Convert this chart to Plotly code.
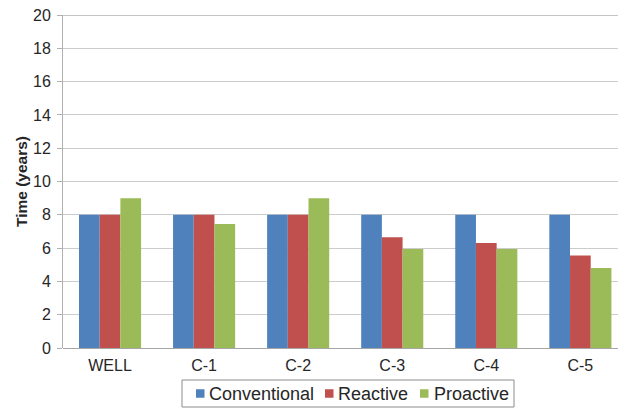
import plotly.graph_objects as go

# Completion time per site under each management strategy
sites = ["WELL", "C-1", "C-2", "C-3", "C-4", "C-5"]
conventional = [8, 8, 8, 8, 8, 8]
reactive = [8, 8, 8, 6.65, 6.3, 5.55]
proactive = [9, 7.45, 9, 5.95, 5.95, 4.8]

y_ticks = list(range(0, 21, 2))

names = ["Conventional", "Reactive", "Proactive"]
colors = ["#4F81BD", "#C0504D", "#9BBB59"]
series = [conventional, reactive, proactive]

W, H = 618, 410
ML, MR, MT, MB = 63, 0, 15, 62
plot_w, plot_h = W - ML - MR, H - MT - MB


def px_x(px):
    return (px - ML) / plot_w


def px_y(py):
    return (H - MB - py) / plot_h


fig = go.Figure()
for name, color, vals in zip(names, colors, series):
    fig.add_trace(go.Bar(
        x=sites, y=vals, name=name, showlegend=False,
        marker=dict(color=color, line=dict(width=0)),
    ))

font = "Liberation Sans, Arial, sans-serif"
text_color = "#262626"

# Darker frame line along the top of the value range
shapes = [dict(
    type="line", xref="paper", yref="y", x0=0, x1=1, y0=y_ticks[-1], y1=y_ticks[-1],
    line=dict(color="#8c8c8c", width=1), layer="above",
)]

# Boxed legend below the plot, Excel style: small swatch right before each label
legend_box = (182, 380, 514, 407)
swatch_left = [196, 325, 420]
label_left = [208, 337, 433]
swatch_size = 8.5
legend_mid = (legend_box[1] + legend_box[3]) / 2

shapes.append(dict(
    type="rect", xref="paper", yref="paper",
    x0=px_x(legend_box[0]), x1=px_x(legend_box[2]),
    y0=px_y(legend_box[3]), y1=px_y(legend_box[1]),
    line=dict(color="#8c8c8c", width=1), fillcolor="white", layer="above",
))
annotations = []
for name, color, sx, lx in zip(names, colors, swatch_left, label_left):
    shapes.append(dict(
        type="rect", xref="paper", yref="paper",
        x0=px_x(sx), x1=px_x(sx + swatch_size),
        y0=px_y(legend_mid + swatch_size / 2), y1=px_y(legend_mid - swatch_size / 2),
        line=dict(width=0), fillcolor=color, layer="above",
    ))
    annotations.append(dict(
        text=name, xref="paper", yref="paper",
        x=px_x(lx), y=px_y(legend_mid), xanchor="left", yanchor="middle",
        showarrow=False, font=dict(size=18, family=font, color=text_color),
        xshift=-1,
    ))

fig.update_layout(
    width=W, height=H,
    margin=dict(l=ML, r=MR, t=MT, b=MB),
    paper_bgcolor="white", plot_bgcolor="white",
    barmode="group", bargap=0.34, bargroupgap=0,
    font=dict(family=font, color=text_color, size=16),
    showlegend=False,
    shapes=shapes, annotations=annotations,
    xaxis=dict(
        range=[-0.5, 5.4], showgrid=False, showline=False, ticks="",
        tickfont=dict(size=16), ticklabelstandoff=6, fixedrange=True,
    ),
    yaxis=dict(
        range=[0, 20], tickvals=y_ticks, showgrid=True, gridcolor="#cccccc", gridwidth=1,
        showline=True, linecolor="#b0b0b0", linewidth=1,
        ticks="outside", ticklen=5, tickcolor="#b0b0b0",
        tickfont=dict(size=16), ticklabelstandoff=3,
        title=dict(text="<b>Time (years)</b>", font=dict(size=15.5), standoff=1),
        zeroline=True, zerolinecolor="#a6a6a6", zerolinewidth=1,
    ),
)

fig.write_html("out.html")
